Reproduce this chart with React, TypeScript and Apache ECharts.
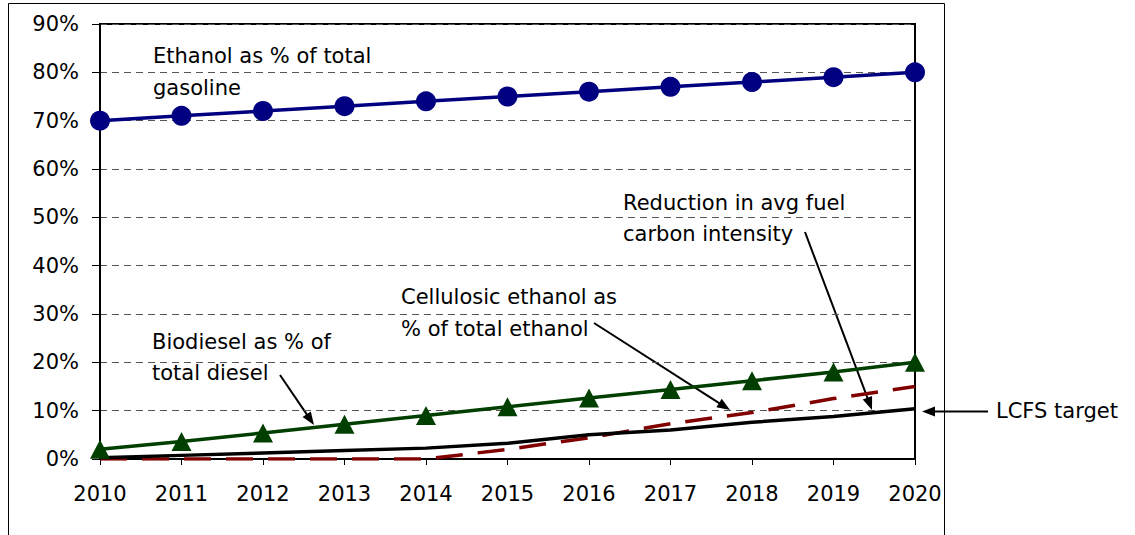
import React, { useEffect, useRef } from "react";
import * as echarts from "echarts";

const years = ["2010", "2011", "2012", "2013", "2014", "2015", "2016", "2017", "2018", "2019", "2020"];
const ethanolShare = [70, 71, 72, 73, 74, 75, 76, 77, 78, 79, 80];
const biodieselShare = [2, 3.6, 5.4, 7.2, 9, 10.8, 12.6, 14.4, 16.2, 18, 20];
const cellulosicShare = [0, 0, 0, 0, 0, 2, 4.4, 7.3, 9.6, 12.5, 15];
const lcfsTarget = [0.25, 0.75, 1.25, 1.75, 2.25, 3.25, 5, 6, 7.6, 8.8, 10.4];

const FONT = '"DejaVu Sans", Arial, sans-serif';

function arrow(x1: number, y1: number, x2: number, y2: number) {
  const dx = x2 - x1;
  const dy = y2 - y1;
  const len = Math.sqrt(dx * dx + dy * dy);
  const ux = dx / len;
  const uy = dy / len;
  const head = 13;
  const half = 5;
  const bx = x2 - ux * head;
  const by = y2 - uy * head;
  return [
    {
      type: "line",
      silent: true,
      shape: { x1, y1, x2: bx + ux * 2, y2: by + uy * 2 },
      style: { stroke: "#000", lineWidth: 2 },
    },
    {
      type: "polygon",
      silent: true,
      shape: {
        points: [
          [x2, y2],
          [bx - uy * half, by + ux * half],
          [bx + uy * half, by - ux * half],
        ],
      },
      style: { fill: "#000" },
    },
  ];
}

function label(text: string, x: number, y: number) {
  return {
    type: "text",
    silent: true,
    x,
    y,
    style: {
      text,
      font: `21px ${FONT}`,
      fill: "#000",
      verticalAlign: "middle",
      align: "left",
    },
  };
}

export default function App() {
  const ref = useRef<HTMLDivElement>(null);

  useEffect(() => {
    if (!ref.current) return;
    const chart = echarts.init(ref.current, undefined, { renderer: "svg" });
    chart.setOption({
      animation: false,
      backgroundColor: "#fff",
      grid: {
        left: 100,
        right: 220,
        top: 24,
        bottom: 76,
        show: true,
        borderColor: "#000",
        borderWidth: 2,
        backgroundColor: "transparent",
      },
      xAxis: {
        type: "category",
        data: years,
        boundaryGap: false,
        axisLine: { show: true, lineStyle: { color: "#000", width: 2 } },
        axisTick: { show: true, length: 6, alignWithLabel: true, lineStyle: { color: "#000", width: 1 } },
        axisLabel: { color: "#000", fontSize: 21, fontFamily: FONT, margin: 24 },
        splitLine: { show: false },
      },
      yAxis: {
        type: "value",
        min: 0,
        max: 90,
        interval: 10,
        axisLine: { show: true, lineStyle: { color: "#000", width: 2 } },
        axisTick: { show: true, length: 8, lineStyle: { color: "#000", width: 1 } },
        axisLabel: { color: "#000", fontSize: 21, fontFamily: FONT, margin: 21, formatter: "{value}%" },
        splitLine: { show: true, lineStyle: { color: "#555", width: 1, type: [7, 5] } },
      },
      series: [
        {
          name: "Cellulosic ethanol as % of total ethanol",
          type: "line",
          data: cellulosicShare,
          symbol: "none",
          z: 2,
          lineStyle: { color: "#800000", width: 3.5, type: [27, 15] },
        },
        {
          name: "LCFS target",
          type: "line",
          data: lcfsTarget,
          symbol: "none",
          z: 3,
          lineStyle: { color: "#000", width: 3.5 },
        },
        {
          name: "Biodiesel as % of total diesel",
          type: "line",
          data: biodieselShare,
          symbol: "triangle",
          symbolSize: [20, 19],
          z: 4,
          itemStyle: { color: "#003f00" },
          lineStyle: { color: "#003f00", width: 3.5 },
        },
        {
          name: "Ethanol as % of total gasoline",
          type: "line",
          data: ethanolShare,
          symbol: "circle",
          symbolSize: 20,
          z: 5,
          itemStyle: { color: "#000080" },
          lineStyle: { color: "#000080", width: 3.5 },
        },
      ],
      graphic: [
        {
          type: "rect",
          silent: true,
          shape: { x: 8.5, y: 3.5, width: 936, height: 560 },
          style: { fill: "none", stroke: "#000", lineWidth: 1 },
          z: -10,
        },
        label("Ethanol as % of total", 153, 56),
        label("gasoline", 153, 88),
        label("Reduction in avg fuel", 623, 203),
        label("carbon intensity", 623, 234),
        label("Cellulosic ethanol as", 401, 297),
        label("% of total ethanol", 401, 329),
        label("Biodiesel as % of", 152, 342),
        label("total diesel", 152, 373),
        label("LCFS target", 996, 411),
        ...arrow(280, 375, 314, 425),
        ...arrow(594, 323, 730, 410),
        ...arrow(805, 232, 872, 410),
        ...arrow(988, 411.5, 922, 411.5),
      ],
    });
    return () => chart.dispose();
  }, []);

  return (
    <div
      ref={ref}
      style={{ position: "fixed", left: 0, top: 0, width: 1135, height: 535, background: "#fff" }}
    />
  );
}
